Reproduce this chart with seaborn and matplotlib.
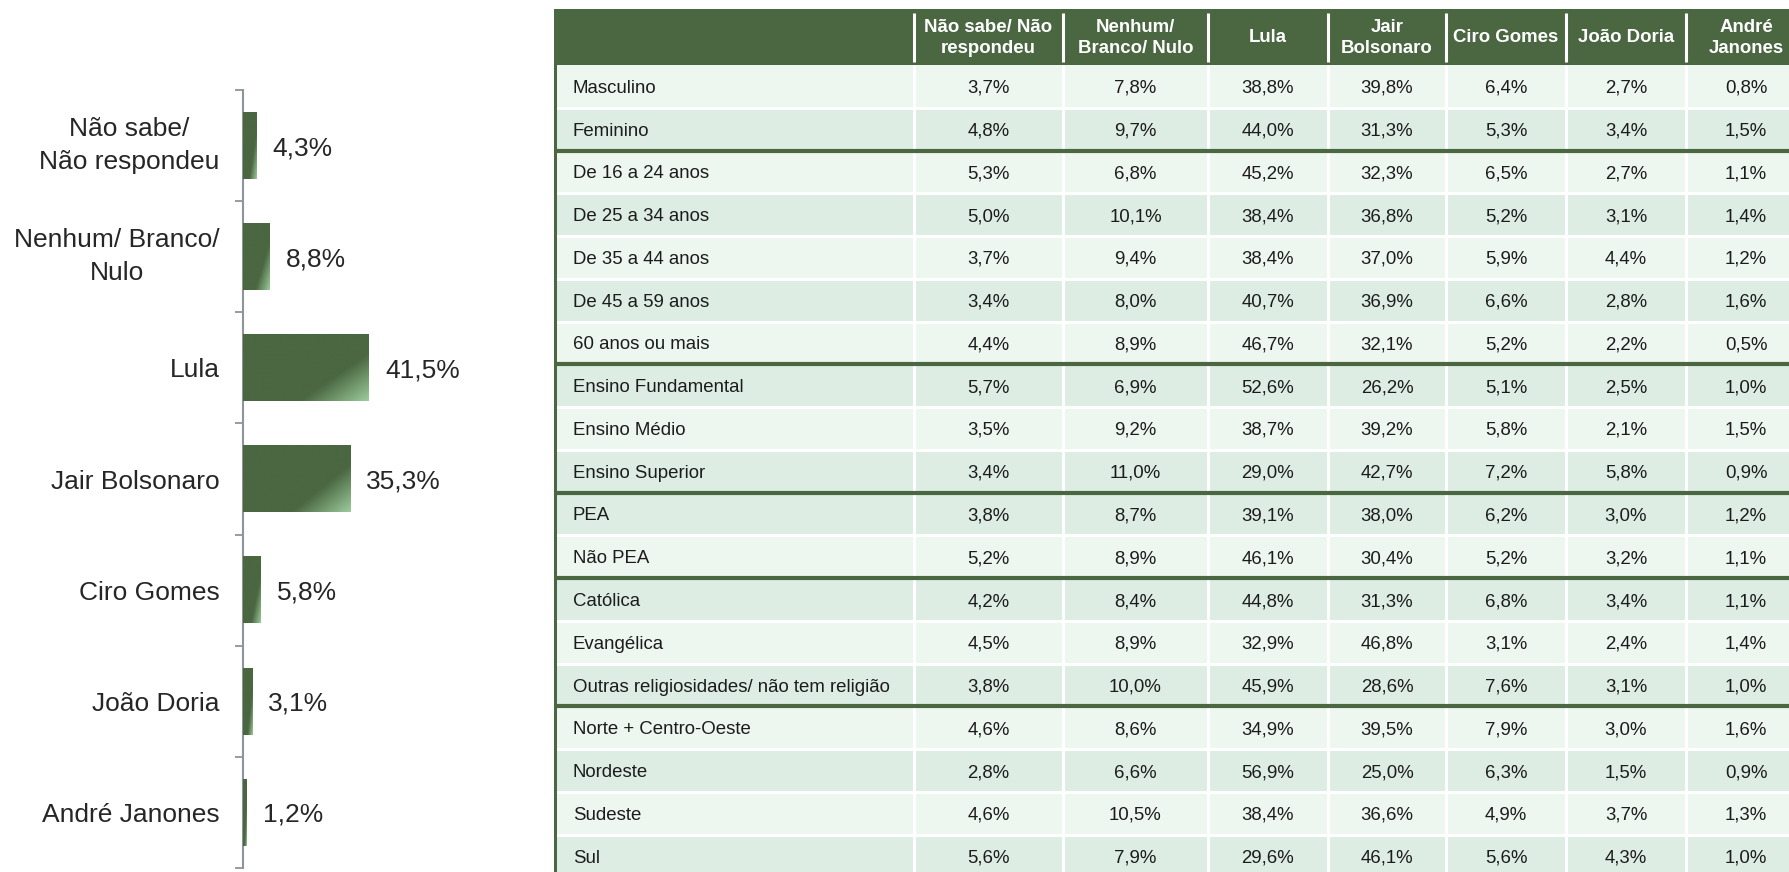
import numpy as np
import pandas as pd
import matplotlib.pyplot as plt
import seaborn as sns
from matplotlib.ticker import FixedLocator

# ---- data ----
candidates = ['Não sabe/\nNão respondeu', 'Nenhum/ Branco/\nNulo', 'Lula',
              'Jair Bolsonaro', 'Ciro Gomes', 'João Doria', 'André Janones']
overall = [4.3, 8.8, 41.5, 35.3, 5.8, 3.1, 1.2]

col_headers = ['Não sabe/ Não\nrespondeu', 'Nenhum/\nBranco/ Nulo', 'Lula',
               'Jair\nBolsonaro', 'Ciro Gomes', 'João Doria', 'André\nJanones']

row_labels = ['Masculino', 'Feminino',
              'De 16 a 24 anos', 'De 25 a 34 anos', 'De 35 a 44 anos',
              'De 45 a 59 anos', '60 anos ou mais',
              'Ensino Fundamental', 'Ensino Médio', 'Ensino Superior',
              'PEA', 'Não PEA',
              'Católica', 'Evangélica', 'Outras religiosidades/ não tem religião',
              'Norte + Centro-Oeste', 'Nordeste', 'Sudeste', 'Sul']
group_sizes = [2, 5, 3, 2, 3, 4]

nao_sabe = [3.7, 4.8, 5.3, 5.0, 3.7, 3.4, 4.4, 5.7, 3.5, 3.4, 3.8, 5.2, 4.2, 4.5, 3.8, 4.6, 2.8, 4.6, 5.6]
nenhum = [7.8, 9.7, 6.8, 10.1, 9.4, 8.0, 8.9, 6.9, 9.2, 11.0, 8.7, 8.9, 8.4, 8.9, 10.0, 8.6, 6.6, 10.5, 7.9]
lula = [38.8, 44.0, 45.2, 38.4, 38.4, 40.7, 46.7, 52.6, 38.7, 29.0, 39.1, 46.1, 44.8, 32.9, 45.9, 34.9, 56.9, 38.4, 29.6]
bolsonaro = [39.8, 31.3, 32.3, 36.8, 37.0, 36.9, 32.1, 26.2, 39.2, 42.7, 38.0, 30.4, 31.3, 46.8, 28.6, 39.5, 25.0, 36.6, 46.1]
ciro = [6.4, 5.3, 6.5, 5.2, 5.9, 6.6, 5.2, 5.1, 5.8, 7.2, 6.2, 5.2, 6.8, 3.1, 7.6, 7.9, 6.3, 4.9, 5.6]
doria = [2.7, 3.4, 2.7, 3.1, 4.4, 2.8, 2.2, 2.5, 2.1, 5.8, 3.0, 3.2, 3.4, 2.4, 3.1, 3.0, 1.5, 3.7, 4.3]
janones = [0.8, 1.5, 1.1, 1.4, 1.2, 1.6, 0.5, 1.0, 1.5, 0.9, 1.2, 1.1, 1.1, 1.4, 1.0, 1.6, 0.9, 1.3, 1.0]

# ---- style ----
GREEN = '#4A6741'
ROW_LIGHT = '#EEF6F0'
ROW_DARK = '#DDEDE3'
AXIS_GRAY = '#8E949B'
TEXT = '#262626'
# row shading pattern (L = light, D = dark), as in the original table
shade = 'LDLDLDLDLDDLDLDLDLD'


def pct(v):
    return f"{v:.1f}".replace('.', ',') + '%'


sns.set_theme(style='white')
plt.rcParams['font.family'] = ['Liberation Sans', 'DejaVu Sans']

W, H = 1790, 872
fig = plt.figure(figsize=(W / 100, H / 100), dpi=100)

# ---- left: horizontal bar chart ----
ax = fig.add_axes([243 / W, 4 / H, 300 / W, 778 / H])
df = pd.DataFrame({'candidato': candidates, 'pct': overall})
sns.barplot(data=df, x='pct', y='candidato', color=GREEN, saturation=1,
            width=0.6, orient='h', ax=ax)

# diagonal gradient towards bottom-right corner of each bar
dark_rgb = np.array([0x4A, 0x67, 0x41]) / 255
light_rgb = np.array([0x9C, 0xCB, 0x9C]) / 255
xf = np.linspace(0, 1, 160)[None, :]
yf = np.linspace(0, 1, 80)[:, None]
t = 0.567 * xf + 0.433 * yf
s = np.clip((t - 0.69) / 0.31, 0, 1)[..., None]
grad = dark_rgb * (1 - s) + light_rgb * s
for p in ax.patches:
    x0, y0, w, h = p.get_x(), p.get_y(), p.get_width(), p.get_height()
    ax.imshow(grad, extent=[x0, x0 + w, y0 + h, y0], origin='upper',
              aspect='auto', zorder=3, interpolation='bilinear')

ax.set_xlim(0, 300 / 3.036)
ax.set_ylim(6.5, -0.5)
value_labels = ax.bar_label(ax.containers[0], labels=[pct(v) for v in overall],
                            padding=11.5, fontsize=19, color=TEXT)
for lab in value_labels:
    lab.set_va('center_baseline')

ax.set_xlabel('')
ax.set_ylabel('')
ax.set_xticks([])
ax.tick_params(axis='y', which='major', length=0, pad=17, labelsize=19,
               labelcolor=TEXT)
ax.yaxis.set_minor_locator(FixedLocator(np.arange(-0.5, 7, 1)))
ax.tick_params(axis='y', which='minor', left=True, length=5.8, width=1.3,
               color=AXIS_GRAY)
for lab in ax.get_yticklabels():
    lab.set_multialignment('center')
    lab.set_linespacing(1.45)
    if '\n' in lab.get_text():
        lab.set_va('center')
for side in ['top', 'right', 'bottom']:
    ax.spines[side].set_visible(False)
ax.spines['left'].set_color(AXIS_GRAY)
ax.spines['left'].set_linewidth(1.5)

# ---- right: cross table ----
ROW = 42.76
HDR = 56 / ROW
edges = [0, 360, 509, 654, 774, 892, 1012, 1132, 1252]
n = len(row_labels)

tx = fig.add_axes([554 / W, 0, (W - 554) / W, (H - 9) / H])
tx.set_xlim(0, W - 554)
tx.set_ylim((H - 9) / ROW - HDR, -HDR)
tx.axis('off')

tx.axhspan(-HDR, 0, color=GREEN, lw=0)
for i, sh in enumerate(shade):
    tx.axhspan(i, i + 1, color=ROW_LIGHT if sh == 'L' else ROW_DARK, lw=0)

tx.hlines(np.arange(1, n), 0, W, color='white', lw=2.2)
tx.vlines(edges[1:], 0, n, color='white', lw=2.2)
tx.vlines(edges[1:], -HDR + 4 / ROW, -3 / ROW, color='white', lw=2.2)
tx.hlines(np.cumsum(group_sizes)[:-1], 0, W, color=GREEN, lw=3)
tx.axvline(1.5, color=GREEN, lw=2.9)

centers = [(edges[j] + edges[j + 1]) / 2 for j in range(1, len(edges) - 1)]
for c, hdr in zip(centers, col_headers):
    tx.text(c, -HDR / 2 + 0.02, hdr, ha='center', va='center', color='white',
            fontweight='bold', fontsize=13.4, linespacing=1.35)

columns = [nao_sabe, nenhum, lula, bolsonaro, ciro, doria, janones]
for i, lab in enumerate(row_labels):
    tx.text(19, i + 0.5, lab, ha='left', va='center_baseline', fontsize=13.4,
            color='#1c1c1c')
    for c, col in zip(centers, columns):
        tx.text(c, i + 0.5, pct(col[i]), ha='center', va='center_baseline',
                fontsize=13.4, color='#1c1c1c')

fig.savefig('out.png', dpi=100)
